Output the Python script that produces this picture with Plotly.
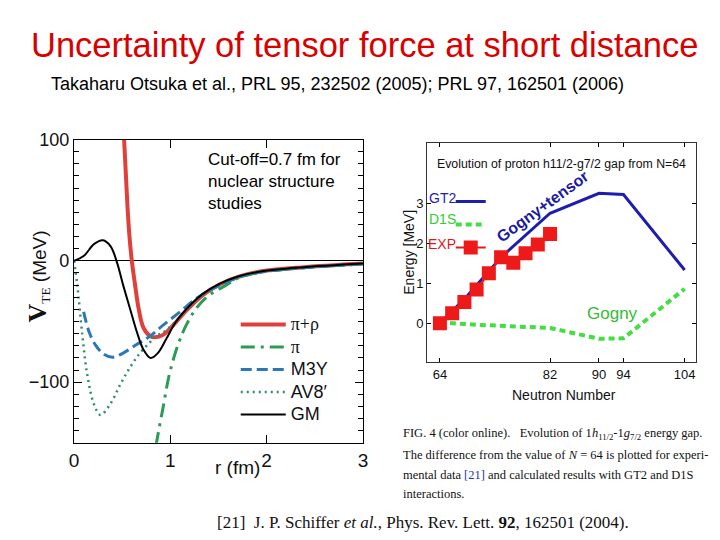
import plotly.graph_objects as go

# ---------------- Left panel data: V_TE (MeV) vs r (fm) ----------------
r_pirho = [0.49, 0.52, 0.555, 0.576, 0.60, 0.634, 0.67, 0.72, 0.79, 0.84, 0.925, 1.03, 1.165, 1.34, 1.51, 1.71, 1.92, 2.36, 3.0]
v_pirho = [140, 100, 45, 20, 0, -20, -39, -55, -62, -63, -61, -53, -41, -28, -19.5, -13, -9, -5.4, -2.2]

r_pi = [0.80, 0.856, 0.925, 0.99, 1.08, 1.165, 1.27, 1.40, 1.58, 1.71, 1.92, 2.36, 3.0]
v_pi = [-176, -150, -120.6, -93.5, -69, -53, -39, -28.5, -20, -14, -9.5, -5.8, -2.5]

r_m3y = [0.10, 0.154, 0.22, 0.31, 0.404, 0.51, 0.65, 0.79, 0.925, 1.1, 1.27, 1.44, 1.71, 1.92, 2.36, 3.0]
v_m3y = [-42, -58, -69, -77, -79.4, -76, -69, -62, -53, -42, -31, -23, -13.5, -9.5, -5.8, -2.5]

r_av8 = [0, 0.034, 0.086, 0.137, 0.206, 0.274, 0.377, 0.48, 0.58, 0.685, 0.79, 0.85, 0.925, 1.03, 1.165, 1.34, 1.51, 1.71, 1.92, 2.36, 3.0]
v_av8 = [0, -20, -61, -93.5, -118, -127, -118, -102, -88, -76, -67, -62, -59, -52, -41, -28, -19.5, -13, -9, -5.5, -2.3]

r_gm = [0, 0.10, 0.21, 0.30, 0.38, 0.445, 0.51, 0.58, 0.65, 0.72, 0.795, 0.87, 0.96, 1.06, 1.2, 1.34, 1.51, 1.71, 1.92, 2.36, 3.0]
v_gm = [0, 4, 14, 17, 12, -1, -20, -39, -58, -73, -80, -76, -64, -50, -37, -27, -19, -12.7, -9, -5.4, -2.2]

left_names = ["π+ρ", "π", "M3Y", "AV8′", "GM"]
left_yticks = [-100, 0, 100]
left_xticks = [0, 1, 2, 3]

# ---------------- Right panel data: energy gap vs neutron number ----------------
n_exp = [64, 66, 68, 70, 72, 74, 76, 78, 80, 82]
e_exp = [0, 0.25, 0.53, 0.84, 1.25, 1.65, 1.51, 1.75, 1.97, 2.23]

n_gt2 = [64, 68, 74, 82, 90, 94, 104]
e_gt2 = [0, 0.6, 1.65, 2.75, 3.25, 3.22, 1.33]

n_d1s = [64, 70, 82, 90, 94, 104]
e_d1s = [0.02, -0.04, -0.12, -0.39, -0.38, 0.86]

right_names = ["GT2", "D1S", "EXP"]
right_xticks = [64, 82, 90, 94, 104]
right_yticks = [0, 1, 2, 3]

W, H = 720, 540
def px(x):
    return x / W
def py(y):
    return 1 - y / H

SANS = "Liberation Sans, Arial, sans-serif"
SERIF = "Liberation Serif, Times New Roman, serif"

def leg_label(t, serif=False):
    fam = "font-family:Liberation Serif;" if serif else ""
    return "<span style='" + fam + "font-size:18px'>" + t + "</span>"

fig = go.Figure()

fig.add_trace(go.Scatter(x=r_pirho, y=v_pirho, mode="lines", name=leg_label(left_names[0], True),
                         line=dict(color="#e0403c", width=4, shape="spline"), xaxis="x", yaxis="y", legend="legend"))
fig.add_trace(go.Scatter(x=r_pi, y=v_pi, mode="lines", name=leg_label(left_names[1], True),
                         line=dict(color="#2a9c55", width=3, dash="14px,6px,3px,6px", shape="spline"), xaxis="x", yaxis="y", legend="legend"))
fig.add_trace(go.Scatter(x=r_m3y, y=v_m3y, mode="lines", name=leg_label(left_names[2]),
                         line=dict(color="#2a78b5", width=3, dash="11px,5px", shape="spline"), xaxis="x", yaxis="y", legend="legend"))
fig.add_trace(go.Scatter(x=r_av8, y=v_av8, mode="lines", name=leg_label(left_names[3]),
                         line=dict(color="#2e8c6a", width=2.5, dash="2px,4px", shape="spline"), xaxis="x", yaxis="y", legend="legend"))
fig.add_trace(go.Scatter(x=r_gm, y=v_gm, mode="lines", name=leg_label(left_names[4]),
                         line=dict(color="#000000", width=2, shape="spline"), xaxis="x", yaxis="y", legend="legend"))

# right panel: legend shows only the line/marker samples; labels are coloured text to their left
fig.add_trace(go.Scatter(x=n_gt2, y=e_gt2, mode="lines", name=" ",
                         line=dict(color="#1e1eae", width=3), xaxis="x2", yaxis="y2", legend="legend2", legendgroup="a"))
fig.add_trace(go.Scatter(x=n_d1s, y=e_d1s, mode="lines", name=" ",
                         line=dict(color="#44dd44", width=4, dash="6px,4px"), xaxis="x2", yaxis="y2", legend="legend2", legendgroup="b"))
fig.add_trace(go.Scatter(x=n_exp, y=e_exp, mode="lines+markers", name=" ",
                         line=dict(color="#e81818", width=2),
                         marker=dict(symbol="square", size=14, color="#ee1a1a"),
                         xaxis="x2", yaxis="y2", legend="legend2", legendgroup="c"))

L_x0, L_x1, L_y0, L_y1 = 70, 363, 132, 441
R_x0, R_x1, R_y0, R_y1 = 428, 701, 135, 359

fig.update_layout(
    width=W, height=H,
    margin=dict(l=0, r=0, t=0, b=0),
    paper_bgcolor="white", plot_bgcolor="white",
    font=dict(family=SANS, color="black"),
    xaxis=dict(domain=[px(L_x0), px(L_x1)], anchor="y", range=[0, 3],
               tickvals=left_xticks, ticks="inside", ticklen=8, tickcolor="black",
               showline=True, linecolor="black", linewidth=1.2, mirror="ticks",
               showgrid=False, zeroline=False,
               tickfont=dict(family=SANS, size=19, color="#111")),
    yaxis=dict(domain=[py(L_y1), py(L_y0)], anchor="x", range=[-150, 100],
               tickvals=left_yticks, ticks="inside", ticklen=8, tickcolor="black",
               minor=dict(dtick=10, ticks="inside", ticklen=5, tickcolor="black"),
               showline=True, linecolor="black", linewidth=1.2, mirror="ticks",
               showgrid=False, zeroline=True, zerolinecolor="black", zerolinewidth=1.2,
               tickfont=dict(family=SANS, size=18, color="#111")),
    xaxis2=dict(domain=[px(R_x0), px(R_x1)], anchor="y2", range=[61.9, 105.9],
                tickvals=right_xticks, ticks="inside", ticklen=4, tickcolor="black",
                showline=True, linecolor="#333", linewidth=1, mirror="ticks",
                showgrid=False, zeroline=False,
                tickfont=dict(family=SANS, size=13, color="#111")),
    yaxis2=dict(domain=[py(R_y1), py(R_y0)], anchor="x2", range=[-0.98, 4.52],
                tickvals=right_yticks, ticks="inside", ticklen=4, tickcolor="black",
                showline=True, linecolor="#333", linewidth=1, mirror="ticks",
                showgrid=False, zeroline=False,
                tickfont=dict(family=SANS, size=13, color="#111")),
    showlegend=True,
    legend=dict(x=px(234), y=py(304), xanchor="left", yanchor="top",
                bgcolor="rgba(0,0,0,0)", itemwidth=45, tracegroupgap=0,
                font=dict(family=SANS, size=15, color="#111"), itemclick=False),
    legend2=dict(x=px(452), y=py(180), xanchor="left", yanchor="top",
                 bgcolor="rgba(0,0,0,0)", itemwidth=30, tracegroupgap=3,
                 font=dict(family=SANS, size=13), itemclick=False),
)

ann = []
ann.append(dict(text="Uncertainty of tensor force at short distance", x=px(365), y=py(36),
                font=dict(family=SANS, size=34.5, color="#d90000")))
ann.append(dict(text="Takaharu Otsuka et al., PRL 95, 232502 (2005); PRL 97, 162501 (2006)", x=px(337), y=py(75),
                font=dict(family=SANS, size=18, color="#000")))
ann.append(dict(text="Cut-off=0.7 fm for<br>nuclear structure<br>studies", x=px(204), y=py(141),
                xanchor="left", yanchor="top", align="left",
                font=dict(family=SANS, size=17, color="#000")))
ann.append(dict(text="<span style='font-family:Liberation Serif;font-size:26px'><b>V</b></span>"
                     "<sub><span style='font-family:Liberation Serif'>TE</span></sub> (MeV)",
                x=px(33), y=py(272), textangle=-90,
                font=dict(family=SANS, size=19, color="#111")))
ann.append(dict(text="r (fm)", x=px(236), y=py(466), font=dict(family=SANS, size=19, color="#111")))
ann.append(dict(text="Evolution of proton h11/2-g7/2 gap from N=64", x=px(436), y=py(157),
                xanchor="left", font=dict(family=SANS, size=12.3, color="#111")))
ann.append(dict(text="Energy [MeV]", x=px(410), y=py(247), textangle=-90,
                font=dict(family=SANS, size=14, color="#111")))
ann.append(dict(text="Neutron Number", x=px(567), y=py(392),
                font=dict(family=SANS, size=14, color="#111")))
for name, yy, col in zip(right_names, [192, 213, 238], ["#1e1eae", "#33cc33", "#dd1a1a"]):
    ann.append(dict(text=name, x=px(459), y=py(yy), xanchor="right",
                    font=dict(family=SANS, size=14, color=col)))
ann.append(dict(text="<b>Gogny+tensor</b>", x=px(545), y=py(200), textangle=-36,
                font=dict(family=SANS, size=16, color="#1a1aa0")))
ann.append(dict(text="Gogny", x=px(616), y=py(309),
                font=dict(family=SANS, size=17, color="#33bb33")))
cap = [
    "FIG. 4 (color online).   Evolution of 1<i>h</i><sub>11/2</sub>-1<i>g</i><sub>7/2</sub> energy gap.",
    "The difference from the value of <i>N</i> = 64 is plotted for experi-",
    "mental data <span style='color:#2233aa'>[21]</span> and calculated results with GT2 and D1S",
    "interactions.",
]
for line, yy in zip(cap, [432, 453, 474, 493]):
    ann.append(dict(text=line, x=px(402), y=py(yy), xanchor="left",
                    font=dict(family=SERIF, size=12.5, color="#111")))
ann.append(dict(text="[21]  J. P. Schiffer <i>et al.</i>, Phys. Rev. Lett. <b>92</b>, 162501 (2004).",
                x=px(213), y=py(522), xanchor="left",
                font=dict(family=SERIF, size=17, color="#111")))

for a in ann:
    a.setdefault("xref", "paper")
    a.setdefault("yref", "paper")
    a.setdefault("showarrow", False)
    a.setdefault("xanchor", "center")
    a.setdefault("yanchor", "middle")
fig.update_layout(annotations=ann)

js = ("document.documentElement.style.margin='0';document.documentElement.style.overflow='hidden';"
      "document.body.style.margin='0';document.body.style.overflow='hidden';"
      "var d=document.getElementsByClassName('plotly-graph-div')[0];"
      "d.style.position='fixed';d.style.top='0px';d.style.left='0px';")
fig.write_html("out.html", config={"displayModeBar": False}, post_script=js)
